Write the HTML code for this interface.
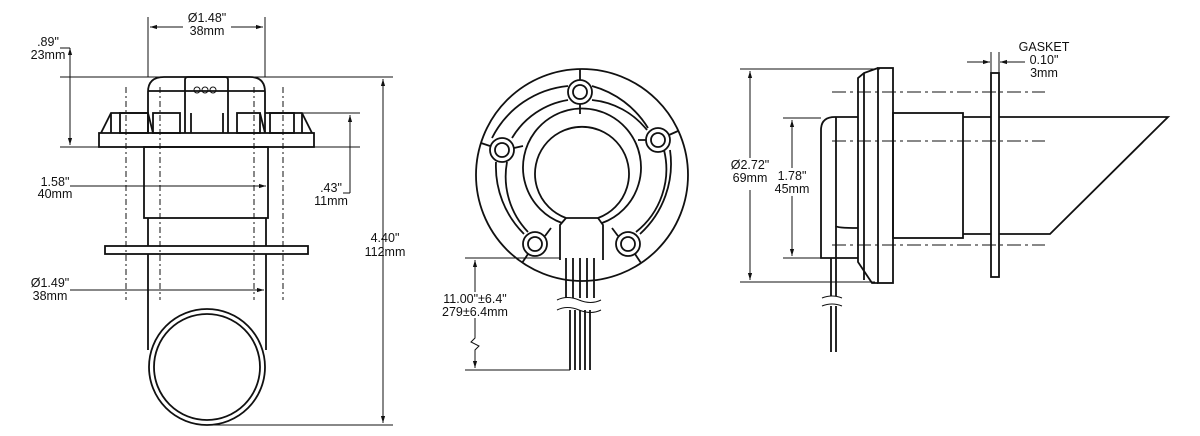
<!DOCTYPE html>
<html><head><meta charset="utf-8"><style>
html,body{margin:0;padding:0;background:#fff}
svg{display:block}
text{font-family:"Liberation Sans",Arial,sans-serif;font-size:12.5px;fill:#111;text-anchor:middle}
</style></head><body>
<svg width="1200" height="436" viewBox="0 0 1200 436" xmlns="http://www.w3.org/2000/svg">
<defs>
<marker id="a" viewBox="0 0 10 10" refX="10" refY="5" markerWidth="7" markerHeight="7" orient="auto-start-reverse"><path d="M0,2 L10,5 L0,8 z" fill="#111"/></marker>
</defs>
<g stroke="#111" fill="none" stroke-width="1">
<!-- LEFT VIEW -->
<line x1="148" y1="17" x2="148" y2="77"/><line x1="265" y1="17" x2="265" y2="77"/>
<line x1="150" y1="27" x2="183" y2="27" marker-start="url(#a)"/><line x1="231" y1="27" x2="263" y2="27" marker-end="url(#a)"/>
<line x1="60" y1="77" x2="393" y2="77"/><line x1="60" y1="147" x2="100" y2="147"/>
<line x1="70" y1="48" x2="70" y2="145" marker-start="url(#a)" marker-end="url(#a)"/>
<polyline points="60,48 70,48"/>
<line x1="300" y1="113" x2="360" y2="113"/><line x1="314" y1="147" x2="360" y2="147"/>
<line x1="350" y1="115" x2="350" y2="193" marker-start="url(#a)"/><polyline points="350,193 343,193"/>
<line x1="383" y1="79" x2="383" y2="423" marker-start="url(#a)" marker-end="url(#a)"/>
<line x1="207" y1="425" x2="393" y2="425"/>
<line x1="70" y1="186" x2="266" y2="186" marker-end="url(#a)"/>
<line x1="70" y1="290" x2="264" y2="290" marker-end="url(#a)"/>
<g stroke-width="1.8">
<path d="M148,133 V92 Q148,77 164,77 H250 Q265,77 265,92 V133"/>
<line x1="148" y1="91" x2="265" y2="91"/>
<path d="M185,133 V80 Q185,77 188,77 H225 Q228,77 228,80 V133"/>
<rect x="99" y="133" width="215" height="14"/>
<path d="M101,133 L111,113 H148"/><path d="M312,133 L302,113 H265"/>
<rect x="120" y="113" width="28" height="20"/><rect x="153" y="113" width="27" height="20"/>
<rect x="237" y="113" width="23" height="20"/><rect x="270" y="113" width="24" height="20"/>
<line x1="111" y1="113" x2="111" y2="133"/><line x1="302" y1="113" x2="302" y2="133"/>
<line x1="148" y1="113" x2="153" y2="133"/><line x1="260" y1="113" x2="265" y2="133"/>
<line x1="191" y1="113" x2="191" y2="133"/><line x1="223" y1="113" x2="223" y2="133"/>
<rect x="144" y="147" width="124" height="71"/>
<line x1="148" y1="218" x2="148" y2="350"/><line x1="266" y1="218" x2="266" y2="350"/>
<rect x="105" y="246" width="203" height="8" fill="#fff"/>
<circle cx="207" cy="367" r="58"/><circle cx="207" cy="367" r="53"/>
</g>
<circle cx="197" cy="90" r="3"/><circle cx="205" cy="90" r="3"/><circle cx="213" cy="90" r="3"/>
<g stroke-dasharray="6,3,2,3">
<line x1="126" y1="87" x2="126" y2="300"/><line x1="160" y1="87" x2="160" y2="300"/>
<line x1="254" y1="87" x2="254" y2="300"/><line x1="283" y1="87" x2="283" y2="300"/>
</g>
<!-- MIDDLE VIEW -->
<g stroke-width="1.8">
<circle cx="582" cy="175" r="106"/>
<path d="M568,100 A80,80 0 0 0 512,138 M507,162 A80,80 0 0 0 528,232 M592,100 A80,80 0 0 1 647,130 M664,150 A80,80 0 0 1 636,232"/>
<path d="M568,86 A95,95 0 0 0 492,138 M496,162 A95,95 0 0 0 524,234 M592,86 A95,95 0 0 1 648,128 M670,150 A95,95 0 0 1 640,234"/>
<path d="M580,69 V80 M580,104 V114 M490,146 L481,143 M514,148 L523,146 M669,135 L678,131 M646,140 L638,140 M522,263 L528,254 M641,263 L635,254 M545,236 L551,228 M618,236 L612,228"/>
<path d="M560,260 V225 L566,218 M603,260 V225 L598,218 M562,223 A59,59 0 1 1 602,223"/>
<path d="M566,218 A47,47 0 1 1 598,218 L566,218"/>
<circle cx="580" cy="92" r="12" fill="#fff"/><circle cx="580" cy="92" r="7"/>
<circle cx="502" cy="150" r="12" fill="#fff"/><circle cx="502" cy="150" r="7"/>
<circle cx="658" cy="140" r="12" fill="#fff"/><circle cx="658" cy="140" r="7"/>
<circle cx="535" cy="244" r="12" fill="#fff"/><circle cx="535" cy="244" r="7"/>
<circle cx="628" cy="244" r="12" fill="#fff"/><circle cx="628" cy="244" r="7"/>
<path d="M566,258 V298 M573,258 V298 M580,258 V298 M587,258 V298 M594,258 V298"/>
<path d="M570,310 V370 M575,310 V370 M580,310 V370 M585,310 V370 M590,310 V370"/>
<path d="M557,300 q10,-5 22,0 t22,0 M557,310 q10,-5 22,0 t22,0" stroke-width="1"/>
</g>
<line x1="465" y1="258" x2="560" y2="258"/><line x1="465" y1="370" x2="570" y2="370"/>
<line x1="475" y1="260" x2="475" y2="292" marker-start="url(#a)"/>
<polyline points="475,318 475,338 471,342 479,346 475,350 475,368"/>
<line x1="475" y1="350" x2="475" y2="368" marker-end="url(#a)"/>
<!-- RIGHT VIEW -->
<line x1="740" y1="69" x2="880" y2="69"/><line x1="740" y1="282" x2="875" y2="282"/>
<line x1="750" y1="71" x2="750" y2="158" marker-start="url(#a)"/><line x1="750" y1="190" x2="750" y2="280" marker-end="url(#a)"/>
<line x1="783" y1="118" x2="821" y2="118"/><line x1="783" y1="258" x2="821" y2="258"/>
<line x1="792" y1="120" x2="792" y2="168" marker-start="url(#a)"/><line x1="792" y1="196" x2="792" y2="256" marker-end="url(#a)"/>
<line x1="991" y1="52" x2="991" y2="73"/><line x1="999" y1="52" x2="999" y2="73"/>
<line x1="967" y1="62" x2="990" y2="62" marker-end="url(#a)"/><line x1="1025" y1="62" x2="1000" y2="62" marker-end="url(#a)"/>
<g stroke-width="1.8">
<rect x="878" y="68" width="15" height="215"/>
<path d="M878,68 L864,73 L858,78 V262 L872,283 H878"/>
<line x1="864" y1="73" x2="864" y2="280"/>
<path d="M858,117 H835 Q821,117 821,130 V258 H858"/><line x1="836" y1="117" x2="836" y2="258"/>
<path d="M836,226 Q836,228 858,228"/>
<rect x="893" y="113" width="70" height="125"/>
<path d="M963,117 H991 M963,234 H991 M999,117 H1168 L1050,234 H999"/>
<rect x="991" y="73" width="8" height="204" fill="#fff"/>
<path d="M831,258 V296 M836,258 V296 M831,306 V352 M836,306 V352"/>
<path d="M822,298 q10,-4 20,0 M822,306 q10,-4 20,0" stroke-width="1"/>
</g>
<g stroke-dasharray="14,4,3,4">
<line x1="832" y1="92" x2="1045" y2="92"/><line x1="832" y1="141" x2="1045" y2="141"/><line x1="832" y1="245" x2="1045" y2="245"/>
</g>
</g>
<text x="207" y="22">Ø1.48"</text><text x="207" y="35">38mm</text>
<text x="48" y="46">.89"</text><text x="48" y="59">23mm</text>
<text x="55" y="186">1.58"</text><text x="55" y="198">40mm</text>
<text x="50" y="287">Ø1.49"</text><text x="50" y="300">38mm</text>
<text x="331" y="192">.43"</text><text x="331" y="205">11mm</text>
<text x="385" y="242">4.40"</text><text x="385" y="256">112mm</text>
<text x="475" y="303">11.00"±6.4"</text><text x="475" y="316">279±6.4mm</text>
<text x="750" y="169">Ø2.72"</text><text x="750" y="182">69mm</text>
<text x="792" y="180">1.78"</text><text x="792" y="193">45mm</text>
<text x="1044" y="51">GASKET</text><text x="1044" y="64">0.10"</text><text x="1044" y="77">3mm</text>
</svg>
</body></html>
